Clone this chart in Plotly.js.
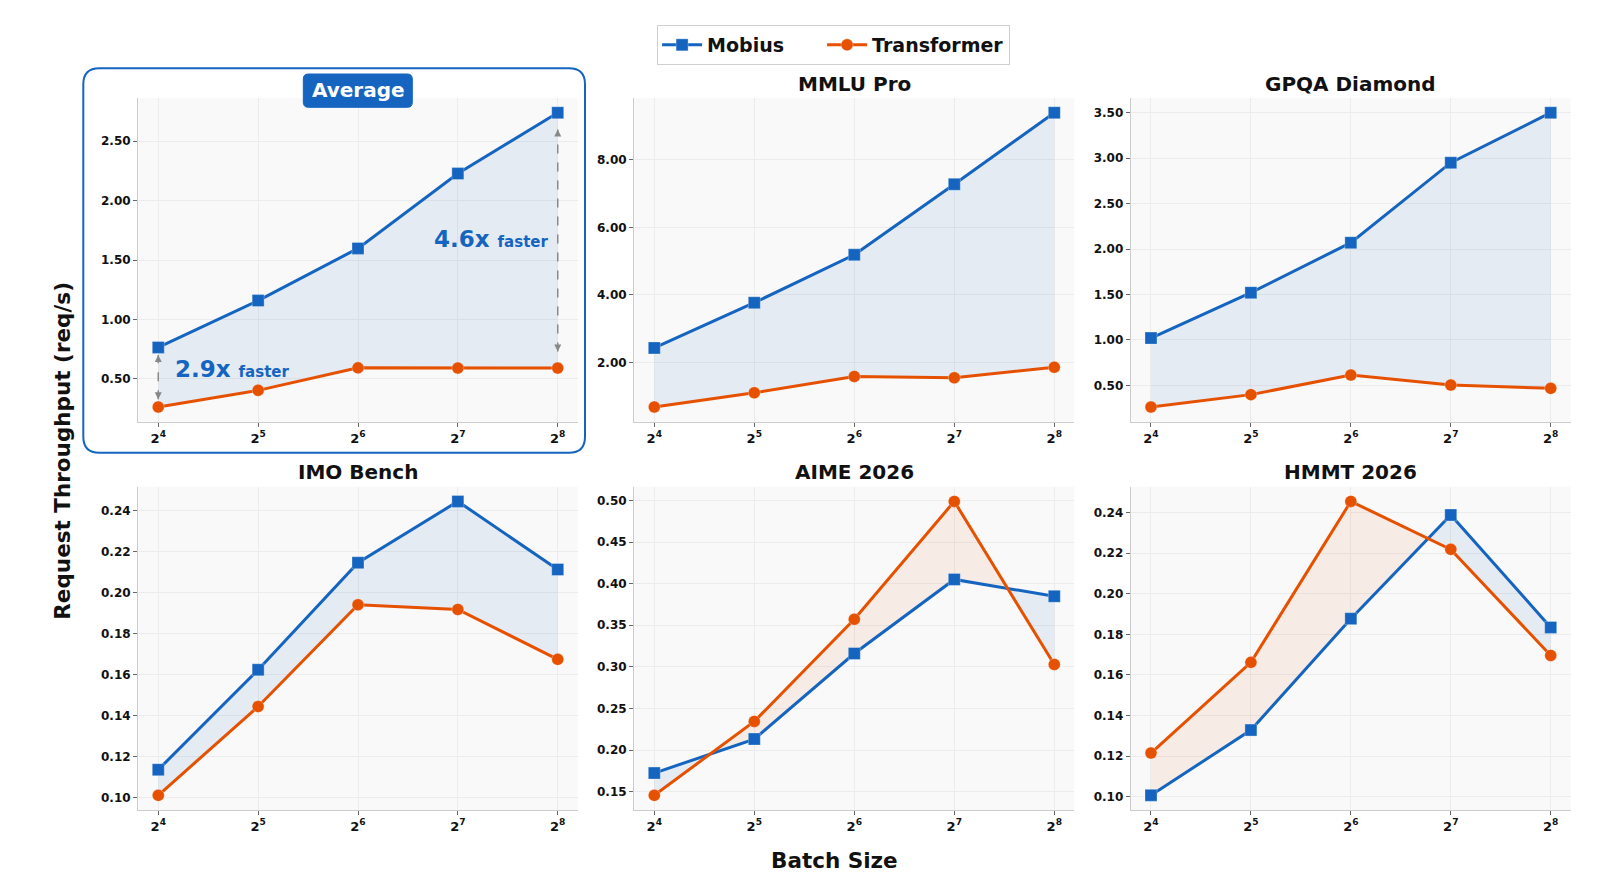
<!DOCTYPE html>
<html>
<head>
<meta charset="utf-8">
<script src="https://cdn.plot.ly/plotly-3.0.1.min.js"></script>
<style>
  body { margin: 0; background: #fff; }
  #chart { width: 1600px; height: 882px; }
</style>
</head>
<body>
<div id="chart"></div>
<script>
// batch sizes are powers of two, x is the exponent
var batchExp = [4, 5, 6, 7, 8];
var xTickText = batchExp.map(function (e) { return '2<sup>' + e + '</sup>'; });

var panelTitles = ['Average', 'MMLU Pro', 'GPQA Diamond', 'IMO Bench', 'AIME 2026', 'HMMT 2026'];
var seriesNames = ['Mobius', 'Transformer'];

var mobiusAvg = [0.765, 1.159, 1.598, 2.227, 2.739];
var transformerAvg = [0.264, 0.404, 0.593, 0.591, 0.591];

var mobiusMMLU = [2.43, 3.77, 5.19, 7.28, 9.40];
var transformerMMLU = [0.68, 1.10, 1.585, 1.545, 1.86];

var mobiusGPQA = [1.02, 1.52, 2.07, 2.95, 3.50];
var transformerGPQA = [0.262, 0.398, 0.613, 0.503, 0.467];

var mobiusIMO = [0.1136, 0.1623, 0.2145, 0.2444, 0.2112];
var transformerIMO = [0.1011, 0.1444, 0.1940, 0.1917, 0.1674];

var mobiusAIME = [0.1723, 0.2132, 0.3160, 0.4050, 0.3848];
var transformerAIME = [0.1456, 0.2344, 0.3572, 0.4988, 0.3028];

var mobiusHMMT = [0.1008, 0.1329, 0.1877, 0.2387, 0.1834];
var transformerHMMT = [0.1216, 0.1662, 0.2454, 0.2218, 0.1696];

var yTickStep = [0.5, 2, 0.5, 0.02, 0.05, 0.02];

var mobiusAll = [mobiusAvg, mobiusMMLU, mobiusGPQA, mobiusIMO, mobiusAIME, mobiusHMMT];
var transformerAll = [transformerAvg, transformerMMLU, transformerGPQA, transformerIMO, transformerAIME, transformerHMMT];

var BLUE = '#1565C0';
var ORANGE = '#E65100';
var W = 1600, H = 882;

// panel boxes in pixels
var cols = [[138.3, 577.7], [634.3, 1074.3], [1131, 1570.7]];
var rows = [[98, 421.7], [486.7, 810]];

function px(x) { return x / W; }
function py(y) { return 1 - y / H; }

// split the band between two lines where they cross, one polygon per run
function bandRegions(xs, a, b) {
  var regions = [];
  var cur = { up: a[0] >= b[0], x: [xs[0]], a: [a[0]], b: [b[0]] };
  for (var i = 0; i < xs.length - 1; i++) {
    var d0 = a[i] - b[i], d1 = a[i + 1] - b[i + 1];
    if (d0 * d1 < 0) {
      var f = d0 / (d0 - d1);
      var xc = xs[i] + f * (xs[i + 1] - xs[i]);
      var yc = a[i] + f * (a[i + 1] - a[i]);
      cur.x.push(xc); cur.a.push(yc); cur.b.push(yc);
      regions.push(cur);
      cur = { up: d1 > 0, x: [xc], a: [yc], b: [yc] };
    }
    cur.x.push(xs[i + 1]); cur.a.push(a[i + 1]); cur.b.push(b[i + 1]);
  }
  regions.push(cur);
  return regions;
}

function roundRect(x0, y0, x1, y1, r) {
  var rx = r / W, ry = r / H;
  var X0 = px(x0), X1 = px(x1), Y0 = py(y0), Y1 = py(y1);
  return 'M' + (X0 + rx) + ',' + Y0 +
    ' L' + (X1 - rx) + ',' + Y0 + ' Q' + X1 + ',' + Y0 + ' ' + X1 + ',' + (Y0 - ry) +
    ' L' + X1 + ',' + (Y1 + ry) + ' Q' + X1 + ',' + Y1 + ' ' + (X1 - rx) + ',' + Y1 +
    ' L' + (X0 + rx) + ',' + Y1 + ' Q' + X0 + ',' + Y1 + ' ' + X0 + ',' + (Y1 + ry) +
    ' L' + X0 + ',' + (Y0 - ry) + ' Q' + X0 + ',' + Y0 + ' ' + (X0 + rx) + ',' + Y0 + ' Z';
}

var fills = [], lines = [];
var layout = {
  width: W, height: H,
  margin: { l: 0, r: 0, t: 0, b: 0 },
  paper_bgcolor: 'white',
  plot_bgcolor: '#f9f9f9',
  font: { family: 'DejaVu Sans', color: '#111' },
  showlegend: true,
  legend: {
    orientation: 'h', x: 0.521, xanchor: 'center', y: py(25), yanchor: 'top',
    bgcolor: 'white', bordercolor: '#d0d0d0', borderwidth: 1,
    font: { size: 19, weight: 'bold', color: '#111' },
    itemwidth: 40
  },
  annotations: [],
  shapes: []
};

var yRanges = [];

for (var i = 0; i < 6; i++) {
  var sfx = i === 0 ? '' : String(i + 1);
  var xr = 'x' + sfx, yr = 'y' + sfx;
  var col = cols[i % 3], row = rows[Math.floor(i / 3)];
  var m = mobiusAll[i], t = transformerAll[i];

  var lo = Math.min.apply(null, m.concat(t)), hi = Math.max.apply(null, m.concat(t));
  var pad = (hi - lo) * 0.05;
  yRanges.push([lo - pad, hi + pad]);

  layout['xaxis' + sfx] = {
    domain: [px(col[0]), px(col[1])], anchor: yr,
    range: [3.8, 8.2], tickvals: batchExp, ticktext: xTickText,
    showgrid: true, gridcolor: '#ececec', gridwidth: 1, zeroline: false,
    showline: true, linecolor: '#cccccc', linewidth: 1.3,
    ticks: 'outside', ticklen: 4, tickcolor: '#666',
    tickfont: { size: 13, weight: 'bold', color: '#111' }
  };
  layout['yaxis' + sfx] = {
    domain: [py(row[1]), py(row[0])], anchor: xr,
    range: [lo - pad, hi + pad], tick0: 0, dtick: yTickStep[i], tickformat: '.2f',
    showgrid: true, gridcolor: '#ececec', gridwidth: 1, zeroline: false,
    showline: true, linecolor: '#cccccc', linewidth: 1.3,
    ticks: 'outside', ticklen: 4, tickcolor: '#666',
    tickfont: { size: 12, weight: 'bold', color: '#111' }
  };

  bandRegions(batchExp, m, t).forEach(function (rg) {
    fills.push({
      x: rg.x.concat(rg.x.slice().reverse()),
      y: rg.a.concat(rg.b.slice().reverse()),
      xaxis: xr, yaxis: yr, type: 'scatter', mode: 'lines',
      fill: 'toself', line: { width: 0 }, hoverinfo: 'skip', showlegend: false,
      fillcolor: rg.up ? 'rgba(21,101,192,0.09)' : 'rgba(230,81,0,0.08)'
    });
  });

  lines.push({
    x: batchExp, y: m, xaxis: xr, yaxis: yr, type: 'scatter', mode: 'lines+markers',
    // trailing no-break spaces widen the first legend entry like the reference
    name: seriesNames[0] + '\u00A0\u00A0\u00A0\u00A0\u00A0', legendgroup: 'mobius', showlegend: i === 0,
    line: { color: BLUE, width: 3 },
    marker: { symbol: 'square', size: 12, color: BLUE, line: { color: 'rgba(255,255,255,0.5)', width: 0.6 } }
  });
  lines.push({
    x: batchExp, y: t, xaxis: xr, yaxis: yr, type: 'scatter', mode: 'lines+markers',
    name: seriesNames[1], legendgroup: 'transformer', showlegend: i === 0,
    line: { color: ORANGE, width: 3 },
    marker: { symbol: 'circle', size: 12, color: ORANGE, line: { color: 'rgba(255,255,255,0.5)', width: 0.6 } }
  });

  // panel titles
  var titleY = i < 3 ? 84 : 472;
  if (i === 0) {
    layout.shapes.push({
      type: 'path', xref: 'paper', yref: 'paper', layer: 'above',
      path: roundRect(303.3, 74, 412.3, 107.3, 5),
      fillcolor: BLUE, line: { color: BLUE, width: 1 }
    });
    layout.annotations.push({
      xref: 'paper', yref: 'paper', x: px((col[0] + col[1]) / 2), y: py(90.5),
      text: panelTitles[i], showarrow: false, xanchor: 'center', yanchor: 'middle',
      font: { size: 20, weight: 'bold', color: 'white' }
    });
  } else {
    layout.annotations.push({
      xref: 'paper', yref: 'paper', x: px((col[0] + col[1]) / 2), y: py(titleY),
      text: panelTitles[i], showarrow: false, xanchor: 'center', yanchor: 'middle',
      font: { size: 20, weight: 'bold', color: '#111' }
    });
  }
}

// highlight box around the Average panel
layout.shapes.push({
  type: 'path', xref: 'paper', yref: 'paper', layer: 'above',
  path: roundRect(83.3, 68.3, 585, 452.7, 16),
  line: { color: BLUE, width: 2 }
});

// speed-up arrows in the Average panel (gap given in pixels)
var avgPlotH = rows[0][1] - rows[0][0];
var avgUnit = (yRanges[0][1] - yRanges[0][0]) / avgPlotH;
[[0, 7.7], [4, 16.7]].forEach(function (a) {
  var k = a[0], gap = a[1] * avgUnit;
  var yLo = transformerAvg[k] + gap, yHi = mobiusAvg[k] - gap;
  layout.shapes.push({
    type: 'line', xref: 'x', yref: 'y', x0: batchExp[k], x1: batchExp[k], y0: yLo, y1: yHi,
    line: { color: '#888', width: 1.5, dash: 'dash' }
  });
  layout.annotations.push({
    xref: 'x', yref: 'y', x: batchExp[k], y: yHi, ax: 0, ay: 8, text: '',
    showarrow: true, arrowhead: 2, arrowsize: 1, arrowwidth: 1.4, arrowcolor: '#888'
  });
  layout.annotations.push({
    xref: 'x', yref: 'y', x: batchExp[k], y: yLo, ax: 0, ay: -8, text: '',
    showarrow: true, arrowhead: 2, arrowsize: 1, arrowwidth: 1.4, arrowcolor: '#888'
  });
});

var firstRatio = (mobiusAvg[0] / transformerAvg[0]).toFixed(1);
var lastRatio = (mobiusAvg[4] / transformerAvg[4]).toFixed(1);
layout.annotations.push({
  xref: 'x', yref: 'y', x: 4.15, y: 0.587, xanchor: 'left', yanchor: 'middle', showarrow: false,
  text: firstRatio + 'x <span style="font-size:15px">faster</span>',
  font: { size: 23, weight: 'bold', color: BLUE }
});
layout.annotations.push({
  xref: 'x', yref: 'y', x: 7.93, y: 1.674, xanchor: 'right', yanchor: 'middle', showarrow: false,
  text: lastRatio + 'x <span style="font-size:15px">faster</span>',
  font: { size: 23, weight: 'bold', color: BLUE }
});

// shared axis titles
layout.annotations.push({
  xref: 'paper', yref: 'paper', x: px(61.7), y: py(451), textangle: -90,
  text: 'Request Throughput (req/s)', showarrow: false, xanchor: 'center', yanchor: 'middle',
  font: { size: 21.5, weight: 'bold', color: '#111' }
});
layout.annotations.push({
  xref: 'paper', yref: 'paper', x: px(834), y: py(860.7),
  text: 'Batch Size', showarrow: false, xanchor: 'center', yanchor: 'middle',
  font: { size: 21.5, weight: 'bold', color: '#111' }
});

Plotly.newPlot('chart', fills.concat(lines), layout, { displayModeBar: false, staticPlot: true });
</script>
</body>
</html>
